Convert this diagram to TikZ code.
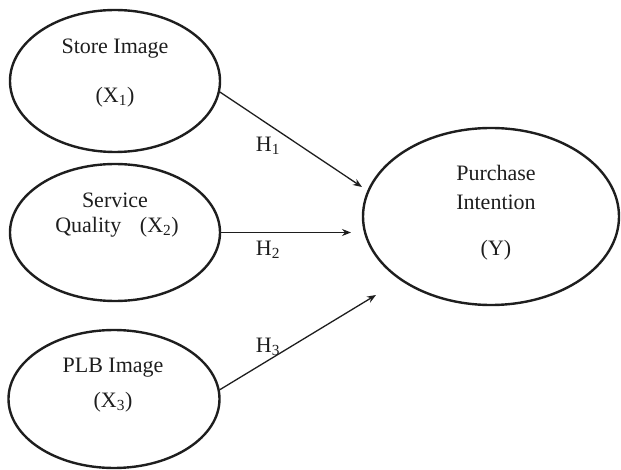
\documentclass[tikz,border=0pt]{standalone}
\usepackage{fontspec}
\setmainfont{Liberation Serif}
\usetikzlibrary{shapes.geometric,arrows.meta}
\definecolor{ink}{RGB}{30,30,30}
\begin{document}
\begin{tikzpicture}[x=1pt,y=-1pt,
  latent/.style={draw=ink,ellipse,line width=2.4pt,inner sep=0pt},
  lbl/.style={text=ink,font=\fontsize{22}{26}\selectfont,inner sep=0pt},
  path/.style={draw=ink,line width=1.3pt,-{Stealth[length=9pt,width=7pt]}}]
\useasboundingbox (0,0) rectangle (621,470);
\node[latent,minimum width=210pt,minimum height=142pt] (e1) at (115,81) {};
\node[latent,minimum width=210pt,minimum height=137pt] (e2) at (115,232.5) {};
\node[latent,minimum width=211pt,minimum height=138pt] (e3) at (114,399) {};
\node[latent,minimum width=256pt,minimum height=177pt] (e4) at (491,216.5) {};
% texts
\node[lbl] (t1a) at (115,49) {Store Image};
\node[lbl] (t1b) at (115,97) {(X\textsubscript{1})};
\node[lbl] (t2a) at (115,200) {Service};
\node[lbl] (t2b) at (117,227) {Quality\hspace{0.6em} (X\textsubscript{2})};
\node[lbl] (t3a) at (113,368) {PLB Image};
\node[lbl] (t3b) at (113,402) {(X\textsubscript{3})};
\node[lbl] (t4a) at (496,173) {Purchase};
\node[lbl] (t4b) at (496,202) {Intention};
\node[lbl] (t4c) at (496,250) {(Y)};
% arrows
\coordinate (h1end) at (362,187);
\coordinate (h2end) at (351,232.5);
\coordinate (h3end) at (376,295);
\draw[path] (e1.-6) -- (h1end);
\draw[path] (e2.east) -- (h2end);
\draw[path] (e3.5) -- (h3end);
\node[lbl] (H1) at (268,146) {H\textsubscript{1}};
\node[lbl] (H2) at (268,250) {H\textsubscript{2}};
\node[lbl] (H3) at (268,347) {H\textsubscript{3}};
\end{tikzpicture}
\end{document}
